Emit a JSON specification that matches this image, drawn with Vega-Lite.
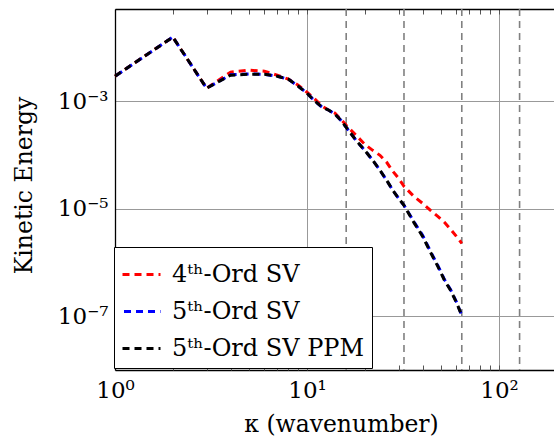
{
  "$schema": "https://vega.github.io/schema/vega-lite/v6.json",
  "autosize": {"type": "none"},
  "padding": {"left": 115, "top": 9, "right": 0, "bottom": 77},
  "width": 439,
  "height": 361,
  "config": {
    "font": "DejaVu Serif",
    "view": {"stroke": null},
    "axis": {"labelFont": "DejaVu Serif", "titleFont": "DejaVu Serif", "labelFontSize": 23, "titleFontSize": 23.5, "labelColor": "#000", "titleColor": "#000", "titleFontWeight": "normal", "domainColor": "#000", "domainWidth": 1.3, "tickColor": "#444", "gridColor": "#999999", "gridWidth": 1, "gridOpacity": 1},
    "legend": {"labelFont": "DejaVu Serif", "labelFontSize": 24, "labelColor": "#000", "labelLimit": 400}
  },
  "resolve": {"axis": {"x": "independent"}},
  "layer": [
    {
      "data": {"values": [{"k": 16}, {"k": 32}, {"k": 64}, {"k": 128}]},
      "mark": {"type": "rule", "color": "#808080", "strokeWidth": 1.6, "strokeDash": [7, 5]},
      "encoding": {
        "x": {"field": "k", "type": "quantitative",
          "scale": {"type": "log", "domain": [1, 193.4], "nice": false, "zero": false},
          "axis": {"orient": "bottom", "values": [1, 10, 100], "grid": true, "ticks": false, "domain": true, "labelPadding": 9, "labelFont": "DejaVu Serif",
            "labelExpr": "datum.value < 5 ? '10⁰' : datum.value < 50 ? '10¹' : '10²'", "labelFlush": false,
            "title": "κ (wavenumber)", "titleX": 226, "titleY": 61, "titleBaseline": "alphabetic", "titleAnchor": "middle", "titleAlign": "center"}
        }
      }
    },
    {
      "data": {"values": [
        {"k": 1, "E": 2.92e-3, "s": "4ᵗʰ-Ord SV"}, {"k": 2, "E": 1.56e-2, "s": "4ᵗʰ-Ord SV"}, {"k": 3, "E": 1.75e-3, "s": "4ᵗʰ-Ord SV"}, {"k": 4, "E": 3.47e-3, "s": "4ᵗʰ-Ord SV"},
        {"k": 5, "E": 3.78e-3, "s": "4ᵗʰ-Ord SV"}, {"k": 6, "E": 3.62e-3, "s": "4ᵗʰ-Ord SV"}, {"k": 7, "E": 3.05e-3, "s": "4ᵗʰ-Ord SV"}, {"k": 8, "E": 2.57e-3, "s": "4ᵗʰ-Ord SV"},
        {"k": 9, "E": 1.99e-3, "s": "4ᵗʰ-Ord SV"}, {"k": 10, "E": 1.47e-3, "s": "4ᵗʰ-Ord SV"}, {"k": 11, "E": 1.09e-3, "s": "4ᵗʰ-Ord SV"}, {"k": 12, "E": 8.07e-4, "s": "4ᵗʰ-Ord SV"},
        {"k": 13, "E": 6.8e-4, "s": "4ᵗʰ-Ord SV"}, {"k": 14, "E": 5.98e-4, "s": "4ᵗʰ-Ord SV"}, {"k": 15, "E": 4.62e-4, "s": "4ᵗʰ-Ord SV"}, {"k": 16, "E": 3.57e-4, "s": "4ᵗʰ-Ord SV"},
        {"k": 18, "E": 2.33e-4, "s": "4ᵗʰ-Ord SV"}, {"k": 20, "E": 1.58e-4, "s": "4ᵗʰ-Ord SV"}, {"k": 22, "E": 1.22e-4, "s": "4ᵗʰ-Ord SV"}, {"k": 24, "E": 9.87e-5, "s": "4ᵗʰ-Ord SV"},
        {"k": 26, "E": 7.31e-5, "s": "4ᵗʰ-Ord SV"}, {"k": 28, "E": 4.97e-5, "s": "4ᵗʰ-Ord SV"}, {"k": 30, "E": 3.68e-5, "s": "4ᵗʰ-Ord SV"}, {"k": 32, "E": 2.61e-5, "s": "4ᵗʰ-Ord SV"},
        {"k": 36, "E": 1.7e-5, "s": "4ᵗʰ-Ord SV"}, {"k": 40, "E": 1.26e-5, "s": "4ᵗʰ-Ord SV"}, {"k": 44, "E": 9.33e-6, "s": "4ᵗʰ-Ord SV"}, {"k": 48, "E": 7.22e-6, "s": "4ᵗʰ-Ord SV"},
        {"k": 52, "E": 5.58e-6, "s": "4ᵗʰ-Ord SV"}, {"k": 56, "E": 4.13e-6, "s": "4ᵗʰ-Ord SV"}, {"k": 60, "E": 3.06e-6, "s": "4ᵗʰ-Ord SV"}, {"k": 64, "E": 2.27e-6, "s": "4ᵗʰ-Ord SV"},

        {"k": 1, "E": 2.92e-3, "s": "5ᵗʰ-Ord SV"}, {"k": 2, "E": 1.56e-2, "s": "5ᵗʰ-Ord SV"}, {"k": 3, "E": 1.75e-3, "s": "5ᵗʰ-Ord SV"}, {"k": 4, "E": 3.1e-3, "s": "5ᵗʰ-Ord SV"},
        {"k": 5, "E": 3.22e-3, "s": "5ᵗʰ-Ord SV"}, {"k": 6, "E": 3.18e-3, "s": "5ᵗʰ-Ord SV"}, {"k": 7, "E": 2.92e-3, "s": "5ᵗʰ-Ord SV"}, {"k": 8, "E": 2.57e-3, "s": "5ᵗʰ-Ord SV"},
        {"k": 9, "E": 1.9e-3, "s": "5ᵗʰ-Ord SV"}, {"k": 10, "E": 1.41e-3, "s": "5ᵗʰ-Ord SV"}, {"k": 11, "E": 1.0e-3, "s": "5ᵗʰ-Ord SV"}, {"k": 12, "E": 7.73e-4, "s": "5ᵗʰ-Ord SV"},
        {"k": 13, "E": 6.8e-4, "s": "5ᵗʰ-Ord SV"}, {"k": 14, "E": 5.73e-4, "s": "5ᵗʰ-Ord SV"}, {"k": 15, "E": 4.43e-4, "s": "5ᵗʰ-Ord SV"}, {"k": 16, "E": 3.28e-4, "s": "5ᵗʰ-Ord SV"},
        {"k": 18, "E": 1.88e-4, "s": "5ᵗʰ-Ord SV"}, {"k": 20, "E": 1.22e-4, "s": "5ᵗʰ-Ord SV"}, {"k": 22, "E": 7.96e-5, "s": "5ᵗʰ-Ord SV"}, {"k": 24, "E": 5.19e-5, "s": "5ᵗʰ-Ord SV"},
        {"k": 26, "E": 3.38e-5, "s": "5ᵗʰ-Ord SV"}, {"k": 28, "E": 2.2e-5, "s": "5ᵗʰ-Ord SV"}, {"k": 30, "E": 1.56e-5, "s": "5ᵗʰ-Ord SV"}, {"k": 32, "E": 1.16e-5, "s": "5ᵗʰ-Ord SV"},
        {"k": 36, "E": 5.8e-6, "s": "5ᵗʰ-Ord SV"}, {"k": 40, "E": 3.2e-6, "s": "5ᵗʰ-Ord SV"}, {"k": 44, "E": 1.6e-6, "s": "5ᵗʰ-Ord SV"}, {"k": 48, "E": 8.8e-7, "s": "5ᵗʰ-Ord SV"},
        {"k": 52, "E": 4.8e-7, "s": "5ᵗʰ-Ord SV"}, {"k": 56, "E": 3.1e-7, "s": "5ᵗʰ-Ord SV"}, {"k": 60, "E": 1.85e-7, "s": "5ᵗʰ-Ord SV"}, {"k": 64, "E": 1.03e-7, "s": "5ᵗʰ-Ord SV"},

        {"k": 1, "E": 2.92e-3, "s": "5ᵗʰ-Ord SV PPM"}, {"k": 2, "E": 1.56e-2, "s": "5ᵗʰ-Ord SV PPM"}, {"k": 3, "E": 1.75e-3, "s": "5ᵗʰ-Ord SV PPM"}, {"k": 4, "E": 3.05e-3, "s": "5ᵗʰ-Ord SV PPM"},
        {"k": 5, "E": 3.18e-3, "s": "5ᵗʰ-Ord SV PPM"}, {"k": 6, "E": 3.18e-3, "s": "5ᵗʰ-Ord SV PPM"}, {"k": 7, "E": 2.92e-3, "s": "5ᵗʰ-Ord SV PPM"}, {"k": 8, "E": 2.57e-3, "s": "5ᵗʰ-Ord SV PPM"},
        {"k": 9, "E": 1.9e-3, "s": "5ᵗʰ-Ord SV PPM"}, {"k": 10, "E": 1.41e-3, "s": "5ᵗʰ-Ord SV PPM"}, {"k": 11, "E": 1.0e-3, "s": "5ᵗʰ-Ord SV PPM"}, {"k": 12, "E": 7.73e-4, "s": "5ᵗʰ-Ord SV PPM"},
        {"k": 13, "E": 6.8e-4, "s": "5ᵗʰ-Ord SV PPM"}, {"k": 14, "E": 5.73e-4, "s": "5ᵗʰ-Ord SV PPM"}, {"k": 15, "E": 4.43e-4, "s": "5ᵗʰ-Ord SV PPM"}, {"k": 16, "E": 3.28e-4, "s": "5ᵗʰ-Ord SV PPM"},
        {"k": 18, "E": 1.88e-4, "s": "5ᵗʰ-Ord SV PPM"}, {"k": 20, "E": 1.22e-4, "s": "5ᵗʰ-Ord SV PPM"}, {"k": 22, "E": 7.96e-5, "s": "5ᵗʰ-Ord SV PPM"}, {"k": 24, "E": 5.19e-5, "s": "5ᵗʰ-Ord SV PPM"},
        {"k": 26, "E": 3.38e-5, "s": "5ᵗʰ-Ord SV PPM"}, {"k": 28, "E": 2.2e-5, "s": "5ᵗʰ-Ord SV PPM"}, {"k": 30, "E": 1.56e-5, "s": "5ᵗʰ-Ord SV PPM"}, {"k": 32, "E": 1.16e-5, "s": "5ᵗʰ-Ord SV PPM"},
        {"k": 36, "E": 5.58e-6, "s": "5ᵗʰ-Ord SV PPM"}, {"k": 40, "E": 3.06e-6, "s": "5ᵗʰ-Ord SV PPM"}, {"k": 44, "E": 1.54e-6, "s": "5ᵗʰ-Ord SV PPM"}, {"k": 48, "E": 8.45e-7, "s": "5ᵗʰ-Ord SV PPM"},
        {"k": 52, "E": 4.65e-7, "s": "5ᵗʰ-Ord SV PPM"}, {"k": 56, "E": 3.02e-7, "s": "5ᵗʰ-Ord SV PPM"}, {"k": 60, "E": 1.81e-7, "s": "5ᵗʰ-Ord SV PPM"}, {"k": 64, "E": 1.03e-7, "s": "5ᵗʰ-Ord SV PPM"}
      ]},
      "mark": {"type": "line", "strokeWidth": 3, "strokeCap": "butt"},
      "encoding": {
        "x": {"field": "k", "type": "quantitative",
          "scale": {"type": "log", "domain": [1, 193.4], "nice": false, "zero": false},
          "axis": {"orient": "top", "values": [1, 2, 3, 4, 5, 6, 7, 8, 9, 10, 20, 30, 40, 50, 60, 70, 80, 90, 100], "grid": false, "labels": false, "ticks": true, "tickSize": -5, "tickColor": "#555", "domain": true, "title": null}
        },
        "y": {"field": "E", "type": "quantitative",
          "scale": {"type": "log", "domain": [1e-8, 0.052], "nice": false, "zero": false},
          "axis": {"values": [0.001, 0.00001, 0.0000001], "grid": true, "ticks": false, "domain": true, "labelPadding": 7, "labelFlush": false, "labelFont": "DejaVu Serif",
            "labelExpr": "datum.value < 5e-7 ? '10⁻⁷' : datum.value < 5e-5 ? '10⁻⁵' : '10⁻³'",
            "title": "Kinetic Energy", "titleX": -84, "titleY": 176, "titleBaseline": "alphabetic", "titleAngle": -90, "titleAnchor": "middle", "titleAlign": "center"}
        },
        "strokeDash": {"field": "s", "type": "nominal",
          "scale": {"domain": ["4ᵗʰ-Ord SV", "5ᵗʰ-Ord SV", "5ᵗʰ-Ord SV PPM"], "range": [[7, 5], [0, 1.5, 7, 3.5], [7, 5]]},
          "legend": null
        },
        "color": {"field": "s", "type": "nominal",
          "scale": {"domain": ["4ᵗʰ-Ord SV", "5ᵗʰ-Ord SV", "5ᵗʰ-Ord SV PPM"], "range": ["#ff0000", "#0000ff", "#000000"]},
          "legend": {"orient": "none", "legendX": -1, "legendY": 238, "title": null, "symbolType": "stroke", "symbolSize": 1444, "symbolStrokeWidth": 3, "symbolDash": [7, 5],
            "labelOffset": 10, "rowPadding": 4, "padding": 7, "strokeColor": "#000", "fillColor": "#ffffff", "cornerRadius": 0, "labelFont": "DejaVu Serif", "labelFontSize": 24, "labelLimit": 400}
        }
      }
    },
    {
      "data": {"values": [{"k": 16}, {"k": 32}]},
      "mark": {"type": "rule", "opacity": 0},
      "encoding": {
        "x": {"field": "k", "type": "quantitative",
          "scale": {"type": "log", "domain": [1, 193.4], "nice": false, "zero": false},
          "axis": {"orient": "bottom", "values": [1, 2, 3, 4, 5, 6, 7, 8, 9, 10, 20, 30, 40, 50, 60, 70, 80, 90, 100], "grid": false, "labels": false, "ticks": true, "tickSize": -5, "tickColor": "#555", "domain": false, "title": null}
        }
      }
    }
  ]
}
